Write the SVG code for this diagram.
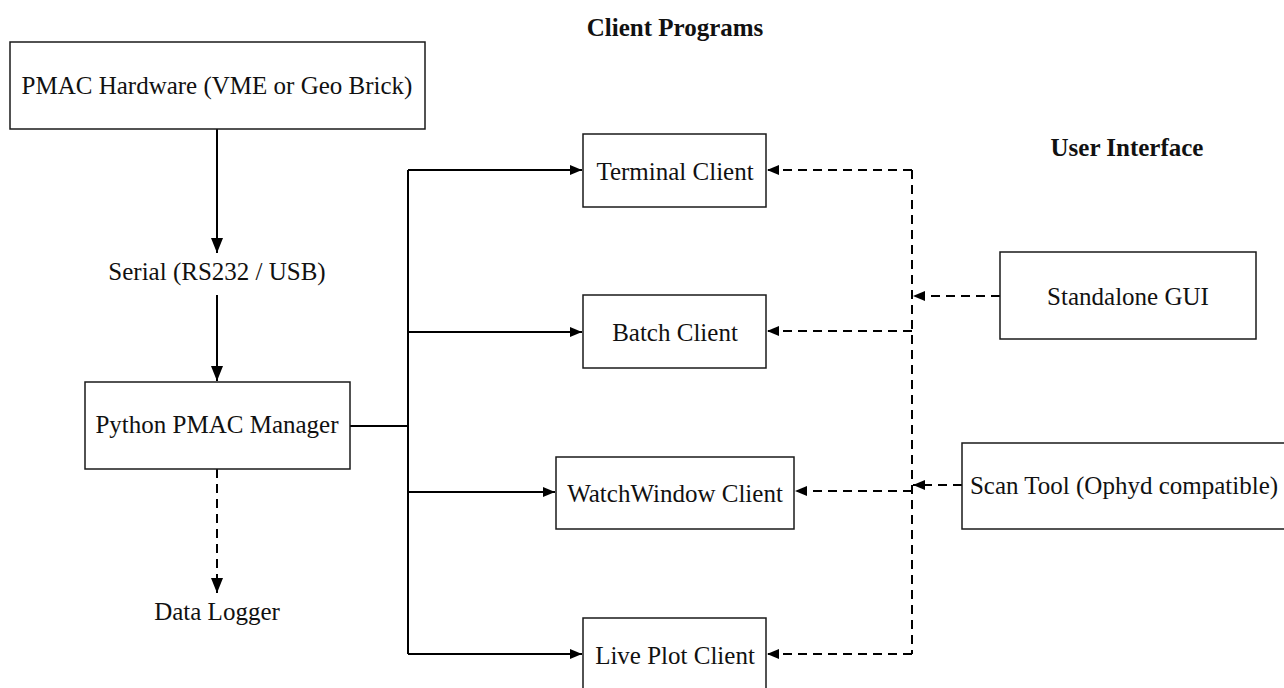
<svg xmlns="http://www.w3.org/2000/svg" width="1284" height="688" viewBox="0 0 1284 688">
  <style>
    .box { fill: #ffffff; stroke: #1a1a1a; stroke-width: 1.5; }
    .lbl { font-family: "Liberation Serif", "Times New Roman", serif; font-size: 25px; fill: #111111; text-anchor: middle; }
    .head { font-family: "Liberation Serif", "Times New Roman", serif; font-size: 25px; font-weight: bold; fill: #111111; text-anchor: middle; }
    .solid { fill: none; stroke: #000000; stroke-width: 2; }
    .dash { fill: none; stroke: #000000; stroke-width: 2; stroke-dasharray: 9 6; }
  </style>
  <defs>
    <!-- horizontal arrowheads: 12 long, 10 wide -->
    <marker id="arrow" viewBox="0 0 12 10" refX="12" refY="5" markerWidth="6" markerHeight="5" orient="auto" markerUnits="strokeWidth">
      <path d="M0,0 L12,5 L0,10 Z" fill="#000000"/>
    </marker>
    <!-- vertical arrowheads: 15 long, 12 wide -->
    <marker id="arrowv" viewBox="0 0 15 12" refX="15" refY="6" markerWidth="7.5" markerHeight="6" orient="auto" markerUnits="strokeWidth">
      <path d="M0,0 L15,6 L0,12 Z" fill="#000000"/>
    </marker>
  </defs>

  <rect width="1284" height="688" fill="#ffffff"/>

  <!-- section headings -->
  <text class="head" x="675" y="36">Client Programs</text>
  <text class="head" x="1127" y="156">User Interface</text>

  <!-- connectors -->
  <g id="connectors">
    <!-- hardware chain -->
    <path class="solid" d="M217,129 L217,253" marker-end="url(#arrowv)"/>
    <path class="solid" d="M217,295 L217,381" marker-end="url(#arrowv)"/>
    <path class="dash" d="M217,469 L217,593" marker-end="url(#arrowv)"/>
    <!-- manager to clients -->
    <path class="solid" d="M350,426 L408,426"/>
    <path class="solid" d="M408,170 L408,654"/>
    <path class="solid" d="M408,170 L582,170" marker-end="url(#arrow)"/>
    <path class="solid" d="M408,332 L582,332" marker-end="url(#arrow)"/>
    <path class="solid" d="M408,492 L555,492" marker-end="url(#arrow)"/>
    <path class="solid" d="M408,654 L582,654" marker-end="url(#arrow)"/>
    <!-- user interface bus -->
    <path class="dash" d="M912,170 L912,654"/>
    <path class="dash" d="M912,170 L767,170" marker-end="url(#arrow)"/>
    <path class="dash" d="M912,331 L767,331" marker-end="url(#arrow)"/>
    <path class="dash" d="M912,491 L795,491" marker-end="url(#arrow)"/>
    <path class="dash" d="M912,654 L767,654" marker-end="url(#arrow)"/>
    <path class="dash" d="M1000,296 L913,296" marker-end="url(#arrow)"/>
    <path class="dash" d="M962,485 L913,485" marker-end="url(#arrow)"/>
  </g>

  <g id="pmac-hardware">
    <rect class="box" x="10" y="42" width="415" height="87"/>
    <text class="lbl" x="217" y="94">PMAC Hardware (VME or Geo Brick)</text>
  </g>

  <g id="serial">
    <text class="lbl" x="217" y="280">Serial (RS232 / USB)</text>
  </g>

  <g id="python-pmac-manager">
    <rect class="box" x="85" y="382" width="265" height="87"/>
    <text class="lbl" x="217" y="433">Python PMAC Manager</text>
  </g>

  <g id="data-logger">
    <text class="lbl" x="217" y="620">Data Logger</text>
  </g>

  <g id="terminal-client">
    <rect class="box" x="583" y="134" width="183" height="73"/>
    <text class="lbl" x="675" y="180">Terminal Client</text>
  </g>

  <g id="batch-client">
    <rect class="box" x="583" y="295" width="183" height="73"/>
    <text class="lbl" x="675" y="341">Batch Client</text>
  </g>

  <g id="watchwindow-client">
    <rect class="box" x="556" y="457" width="238" height="72"/>
    <text class="lbl" x="675" y="502">WatchWindow Client</text>
  </g>

  <g id="live-plot-client">
    <rect class="box" x="583" y="618" width="183" height="80"/>
    <text class="lbl" x="675" y="664">Live Plot Client</text>
  </g>

  <g id="standalone-gui">
    <rect class="box" x="1000" y="252" width="256" height="87"/>
    <text class="lbl" x="1128" y="305">Standalone GUI</text>
  </g>

  <g id="scan-tool">
    <rect class="box" x="962" y="443" width="330" height="86"/>
    <text class="lbl" x="1124" y="494">Scan Tool (Ophyd compatible)</text>
  </g>
</svg>
